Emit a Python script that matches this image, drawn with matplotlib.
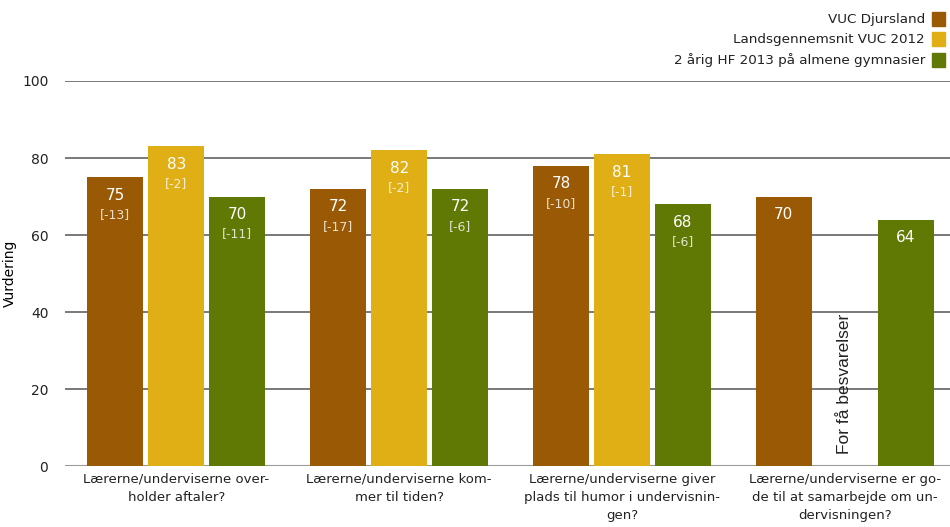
import numpy as np
import matplotlib
matplotlib.use('Agg')
import matplotlib.pyplot as plt
from matplotlib.patches import Rectangle

# ---- data ----
questions = [
    'Lærerne/underviserne over-\nholder aftaler?',
    'Lærerne/underviserne kom-\nmer til tiden?',
    'Lærerne/underviserne giver\nplads til humor i undervisnin-\ngen?',
    'Lærerne/underviserne er go-\nde til at samarbejde om un-\ndervisningen?',
]
series_names = ['VUC Djursland', 'Landsgennemsnit VUC 2012',
                '2 årig HF 2013 på almene gymnasier']
djursland = [75, 72, 78, 70]
landsgns = [83, 82, 81, None]
hf2013 = [70, 72, 68, 64]
djursland_diff = ['[-13]', '[-17]', '[-10]', None]
landsgns_diff = ['[-2]', '[-2]', '[-1]', None]
hf2013_diff = ['[-11]', '[-6]', '[-6]', None]
missing_note = 'For få besvarelser'

colors = ['#9A5A05', '#E0AE15', '#607804']

plt.rcParams['font.family'] = ['DejaVu Sans']

fig = plt.figure(figsize=(9.5, 5.27), dpi=100)
ax = fig.add_axes([0.0684, 0.1157, 0.938, 0.7306])

x = np.arange(len(questions))
offset = 0.274
width = 0.251

all_vals = [djursland, landsgns, hf2013]
all_diffs = [djursland_diff, landsgns_diff, hf2013_diff]

for k, (vals, diffs) in enumerate(zip(all_vals, all_diffs)):
    xs = x + (k - 1) * offset
    for xi, v, d in zip(xs, vals, diffs):
        if v is None:
            continue
        ax.bar(xi, v, width=width, color=colors[k], zorder=3)
        ax.annotate(f'{v}', xy=(xi, v), xytext=(0, -13), textcoords='offset points',
                    ha='center', va='center', color='white', fontsize=11, zorder=4)
        if d:
            ax.annotate(d, xy=(xi, v), xytext=(0, -27), textcoords='offset points',
                        ha='center', va='center', color='white', alpha=0.8,
                        fontsize=9, zorder=4)

# missing value note for the yellow bar in the last group
for i, v in enumerate(landsgns):
    if v is None:
        ax.text(x[i], 3.2, missing_note, rotation=90, ha='center', va='bottom',
                fontsize=12.5, family=['Liberation Sans'], color='#222222', zorder=4)

ax.set_xlim(-0.5, len(questions) - 0.5)
ax.set_ylim(0, 100)
ax.set_yticks([0, 20, 40, 60, 80, 100])
ax.yaxis.grid(True, color='#555555', linewidth=1.1, zorder=0)
ax.axhline(0, color='#999999', linewidth=1.5, zorder=2)
for s in ax.spines.values():
    s.set_visible(False)
ax.tick_params(axis='both', length=0, labelsize=10, colors='#222222')
ax.tick_params(axis='y', pad=12)
ax.tick_params(axis='x', pad=5)
ax.set_xticks(x)
ax.set_xticklabels(questions, fontsize=9.5, linespacing=1.5)
ax.set_ylabel('Vurdering', fontsize=10)
ax.yaxis.set_label_coords(-0.054, 0.5)

# legend in the top right corner
leg_y = [19, 39, 60]
for name, c, yy in zip(series_names, colors, leg_y):
    fig.text(925 / 950, 1 - yy / 527, name, ha='right', va='center',
             fontsize=9.7, color='#222222')
    fig.patches.append(Rectangle((932 / 950, 1 - (yy + 7) / 527), 13 / 950, 14 / 527,
                                 transform=fig.transFigure, color=c))

fig.savefig('out.png', dpi=100)
